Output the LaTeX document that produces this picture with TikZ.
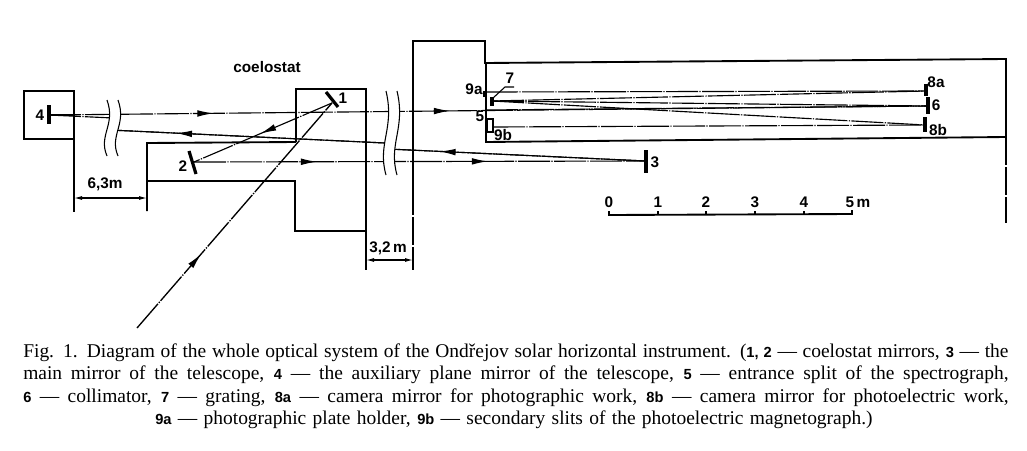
\documentclass[tikz,border=0pt]{standalone}
\usepackage{fontspec}
\setmainfont{Liberation Serif}
\setsansfont{Liberation Sans}
\usetikzlibrary{arrows.meta,decorations.markings}
\tikzset{
  wall/.style={line width=1.4pt},
  wallcut/.style={line width=1.4pt,dash pattern=on 21pt off 1.5pt},
  thinwall/.style={line width=.8pt},
  mirror/.style={line width=2.4pt},
  ray/.style={line width=.85pt,dash pattern=on 24pt off 1pt on 1pt off 1pt},
  arrowat/.style={postaction={decorate,decoration={markings,mark=at position #1 with {\arrow{Latex[length=12pt,width=5pt]}}}}},
  lab/.style={font=\sffamily\bfseries\fontsize{11.5}{13}\selectfont,inner sep=0pt},
  capline/.style={font=\fontsize{14.6}{16}\selectfont,inner sep=0pt,anchor=base west},
  gapwave/.pic={
    \fill[white] (0,0) .. controls (9,25) and (-9,35) .. (0,56) -- (11,56) .. controls (2,35) and (20,25) .. (11,0) -- cycle;
    \draw[thinwall] (0,0) .. controls (9,25) and (-9,35) .. (0,56);
    \draw[thinwall] (11,0) .. controls (20,25) and (2,35) .. (11,56);
  }
}
\newcommand{\numb}[1]{{\sffamily\bfseries\fontsize{11}{13}\selectfont #1}}
\begin{document}
\begin{tikzpicture}[x=.75pt,y=-.75pt]
  \useasboundingbox (0,0) rectangle (1027,450);

  % mirrors and ray ends
  \coordinate (m1) at (332,103);
  \coordinate (m2) at (194,162);
  \coordinate (m3) at (646,161);
  \coordinate (m4) at (49,115);
  \coordinate (m6) at (928,106);
  \coordinate (m7) at (492,101);
  \coordinate (m8a) at (926,91);
  \coordinate (m8b) at (925,125);
  \coordinate (p9a) at (486,92);
  \coordinate (p5) at (486,110);
  \coordinate (p9b) at (493,127);
  \coordinate (sun) at (137,328);
  \coordinate (ra) at (113,118);
  \coordinate (rb) at (110,130);
  \coordinate (rc) at (385,143);
  \coordinate (rd) at (388,149);

  % building
  \draw[wall] (24,91) rectangle (74,139);
  \draw[wall] (74,139) -- (74,212);
  \draw[wall] (147,211) -- (147,143) -- (296,142);
  \draw[wall] (147,181) -- (295,181) -- (295,231) -- (366,231) -- (366,89) -- (296,89) -- (296,142);
  \draw[wall] (366,231) -- (366,270);
  \draw[wall] (413,187) -- (413,41) -- (485,41) -- (485,63) -- (1006,59) -- (1006,137);
  \draw[wall] (486,63) -- (486,142) -- (1006,137);
  \draw[wallcut] (413,187) -- (413,270);
  \draw[wallcut] (1006,137) -- (1006,223);

  % rays
  \foreach \from/\to in {m4/ra,rb/rc,rd/m3,m7/m8a,m7/m6,m7/m8b,p9a/m8a,p5/m6,p9b/m8b}
    \draw[ray] (\from) -- (\to);
  \draw[ray,arrowat=.187,arrowat=.456] (m4) -- (m6);
  \draw[ray,arrowat=.272,arrowat=.65] (m2) -- (m3);
  \draw[ray,arrowat=.52] (m1) -- (m2);
  \draw[ray,line width=1pt,arrowat=.33] (sun) -- (m1);
  \draw[ray,arrowat=.76] (rc) -- (rb);
  \draw[ray,arrowat=.8] (m3) -- (rd);

  % mirrors
  \draw[mirror] (326,92) -- (338,107);
  \draw[mirror] (189,151) -- (196,174);
  \draw[mirror] (646,150) -- (646,173);
  \draw[mirror] (49,105) -- (49,124);
  \draw[mirror] (928,97) -- (928,114);
  \draw[mirror] (492,97) -- (492,106);
  \draw[mirror] (926,84) -- (926,96);
  \draw[mirror] (925,117) -- (925,132);
  \draw[mirror] (485,91) -- (485,97);
  \draw[line width=1.2pt] (m4) -- (74,115);

  % slits and leader of the grating
  \draw[thinwall] (487,119) rectangle (493,132);
  \draw[thinwall] (493,98) -- (505,87) -- (514,87);

  % breaks of the scale
  \path (107,100) pic {gapwave};
  \path (386,91) pic[yscale=1.5] {gapwave};

  % dimensions
  \coordinate (d1) at (74,198);
  \coordinate (d2) at (147,198);
  \coordinate (d3) at (366,260);
  \coordinate (d4) at (413,260);
  \draw[thinwall,{Latex[length=6pt,width=3pt]}-{Latex[length=6pt,width=3pt]}] (d1) -- (d2);
  \draw[thinwall,{Latex[length=6pt,width=3pt]}-{Latex[length=6pt,width=3pt]}] (d3) -- (d4);
  \node[lab] (dim63) at (105,184) {6,3m};
  \node[lab] (dim32) at (388,248) {3,2\,m};

  % labels
  \node[lab] (lcoel) at (267,67) {coelostat};
  \node[lab] (l1) at (343,98) {1};
  \node[lab] (l2) at (183,166) {2};
  \node[lab] (l3) at (655,162) {3};
  \node[lab] (l4) at (40,115) {4};
  \node[lab] (l5) at (480,116) {5};
  \node[lab] (l6) at (936,105) {6};
  \node[lab] (l7) at (510,78) {7};
  \node[lab] (l8a) at (936,82) {8a};
  \node[lab] (l8b) at (938,130) {8b};
  \node[lab] (l9a) at (474,89) {9a};
  \node[lab] (l9b) at (503,135) {9b};

  % scale bar
  \draw[wall] (609,211) -- (609,215) -- (852,214) -- (852,210);
  \foreach \xt/\lbl in {609/0,658/1,706/2,755/3,804/4} {
    \draw[thinwall] (\xt,211) -- (\xt,215);
    \node[lab] (s\lbl) at (\xt,202) {\lbl};
  }
  \node[lab] (s5) at (858,202) {5\,m};

  % caption
  \node[capline] (cap1) at (23,357) {\makebox[739pt][s]{Fig. 1. Diagram of the whole optical system of the Ondřejov solar horizontal instrument. (\numb{1, 2} — coelostat mirrors, \numb{3} — the}};
  \node[capline] (cap2) at (23,379) {\makebox[739pt][s]{main mirror of the telescope, \numb{4} — the auxiliary plane mirror of the telescope, \numb{5} — entrance split of the spectrograph,}};
  \node[capline] (cap3) at (23,402) {\makebox[739pt][s]{\numb{6} — collimator, \numb{7} — grating, \numb{8a} — camera mirror for photographic work, \numb{8b} — camera mirror for photoelectric work,}};
  \node[capline] (cap4) at (155,424) {\makebox[538pt][s]{\numb{9a} — photographic plate holder, \numb{9b} — secondary slits of the photoelectric magnetograph.)}};
\end{tikzpicture}
\end{document}
